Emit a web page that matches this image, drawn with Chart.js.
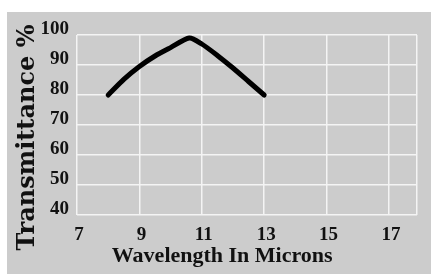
<!DOCTYPE html>
<html>
<head>
<meta charset="utf-8">
<script src="https://cdn.jsdelivr.net/npm/chart.js@4/dist/chart.umd.min.js"></script>
<style>
  html, body { margin: 0; padding: 0; background: #fff; }
  #wrap { position: absolute; left: 7px; top: 12px; width: 424px; height: 262px; background: #cccccc; }
</style>
</head>
<body>
<div id="wrap"><canvas id="chart" width="424" height="262"></canvas></div>
<script>
'use strict';

// wavelength (microns) vs transmittance (%)
var wavelength = [8, 8.5, 9, 9.5, 10, 10.6, 11, 11.5, 12, 12.5, 13];
var transmittance = [80, 85.2, 89.5, 93, 95.8, 99, 97, 93.2, 89, 84.5, 80];
var xTicks = [7, 9, 11, 13, 15, 17];
var yTicks = [40, 50, 60, 70, 80, 90, 100];
var xMax = 17.9;

var points = [];
for (var i = 0; i < wavelength.length; i++) {
  points.push({x: wavelength[i], y: transmittance[i]});
}

var tickFont = {family: '"Liberation Serif"', weight: 'bold', size: 19};
var nb = '\u00a0';

var ctx = document.getElementById('chart');
var myChart = new Chart(ctx, {
  type: 'line',
  data: {
    datasets: [{
      data: points,
      borderColor: '#000',
      borderWidth: 5,
      borderCapStyle: 'round',
      borderJoinStyle: 'round',
      pointRadius: 0,
      tension: 0.25
    }]
  },
  options: {
    responsive: false,
    animation: false,
    layout: {padding: {top: 23, right: 14, left: 0, bottom: 0}},
    plugins: {legend: {display: false}, tooltip: {enabled: false}},
    scales: {
      x: {
        type: 'linear',
        min: 7,
        max: xMax,
        afterBuildTicks: function(scale) {
          scale.ticks = xTicks.concat([xMax]).map(function(v){ return {value: v}; });
        },
        afterFit: function(scale) { scale.height = 59; },
        grid: {color: '#f4f4f4', lineWidth: 1.5, drawTicks: false},
        border: {display: false},
        ticks: {
          font: tickFont,
          color: '#111',
          padding: 9,
          labelOffset: 2,
          callback: function(v) { return xTicks.indexOf(v) >= 0 ? v : ''; }
        },
        title: {
          display: true,
          // trailing spaces pull the centred title left like the original
          text: 'Wavelength In Microns' + nb.repeat(9),
          color: '#111',
          font: {family: '"Liberation Serif"', weight: 'bold', size: 22},
          padding: {top: 0, bottom: 4}
        }
      },
      y: {
        min: 40,
        max: 100,
        afterBuildTicks: function(scale) {
          scale.ticks = yTicks.map(function(v){ return {value: v}; });
        },
        afterFit: function(scale) { scale.width = 70; },
        grid: {color: '#f4f4f4', lineWidth: 1.5, drawTicks: false},
        border: {display: false},
        ticks: {
          font: tickFont,
          color: '#111',
          padding: 8,
          labelOffset: -6
        },
        title: {
          display: true,
          text: 'Transmittance %' + nb.repeat(3),
          color: '#111',
          font: {family: '"DejaVu Serif"', weight: 'bold', size: 24},
          padding: {top: 6, bottom: 0}
        }
      }
    }
  }
});
</script>
</body>
</html>
